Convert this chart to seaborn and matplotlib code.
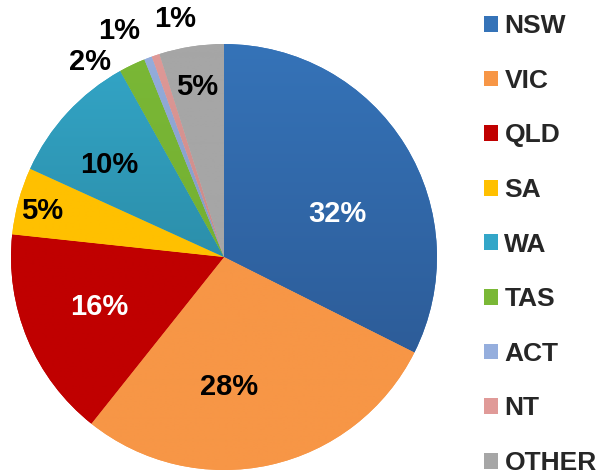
import numpy as np
import matplotlib
matplotlib.use("Agg")
import matplotlib.pyplot as plt
import seaborn as sns
from matplotlib.patches import Patch

sns.set_style("white")
plt.rcParams['font.family'] = ['Liberation Sans', 'DejaVu Sans']

# data (share of total, %)
states = ["NSW", "VIC", "QLD", "SA", "WA", "TAS", "ACT", "NT", "OTHER"]
shares = [32.4, 28.3, 16.0, 5.1, 10.1, 2.0, 0.6, 0.6, 4.9]
labels = ["32%", "28%", "16%", "5%", "10%", "2%", "1%", "1%", "5%"]

# top / bottom colour of each slice (some slices have a soft gradient)
top_cols = ["#3573B8", "#F79646", "#C00000", "#FFC000", "#33A6C8",
            "#7AB836", "#95AEDD", "#E09A98", "#A6A6A6"]
bot_cols = ["#2A548D", "#F79646", "#C00000", "#FFC000", "#25788D",
            "#6FA82E", "#7185A8", "#B27774", "#A6A6A6"]
text_cols = ["white", "black", "white", "black", "black",
             "black", "black", "black", "black"]
# label radius (fraction of pie radius) and angle nudge in degrees
lab_r = [0.57, 0.61, 0.63, 0.88, 0.69, 1.11, 1.17, 1.14, 0.81]
lab_da = [-11, -10, -1, 1, 4, 9, 4, -7, 0]

fig = plt.figure(figsize=(5.97, 4.72), dpi=100)
ax = fig.add_axes([0.0184, 0.0042, 0.7136, 0.9025])

wedges, _ = ax.pie(shares, colors=top_cols, startangle=90, counterclock=False,
                   radius=1, wedgeprops=dict(linewidth=0))

for w, c1, c2 in zip(wedges, top_cols, bot_cols):
    a = np.array(matplotlib.colors.to_rgb(c1))
    b = np.array(matplotlib.colors.to_rgb(c2))
    t = np.linspace(0, 1, 256)[:, None]
    grad = (a * (1 - t) + b * t)[:, None, :]
    im = ax.imshow(grad, extent=[-1, 1, -1, 1], aspect='auto', zorder=2,
                   interpolation='bilinear')
    im.set_clip_path(w)

for w, lab, tc, r, da in zip(wedges, labels, text_cols, lab_r, lab_da):
    ang = np.deg2rad((w.theta1 + w.theta2) / 2 + da)
    ax.text(r * np.cos(ang), r * np.sin(ang), lab, ha='center', va='center',
            fontsize=21, fontweight='bold', color=tc, zorder=5)

ax.set_xlim(-1, 1)
ax.set_ylim(-1, 1)
ax.set_aspect('equal')
ax.axis('off')

handles = [Patch(facecolor=c, edgecolor='none') for c in top_cols]
fig.legend(handles, states, loc='upper left', bbox_to_anchor=(0.810, 0.970),
           frameon=False, prop=dict(size=19, weight='bold'),
           handlelength=0.54, handleheight=0.54, handletextpad=0.25,
           labelspacing=1.16, borderpad=0, borderaxespad=0)

fig.savefig("out.png", dpi=100)
